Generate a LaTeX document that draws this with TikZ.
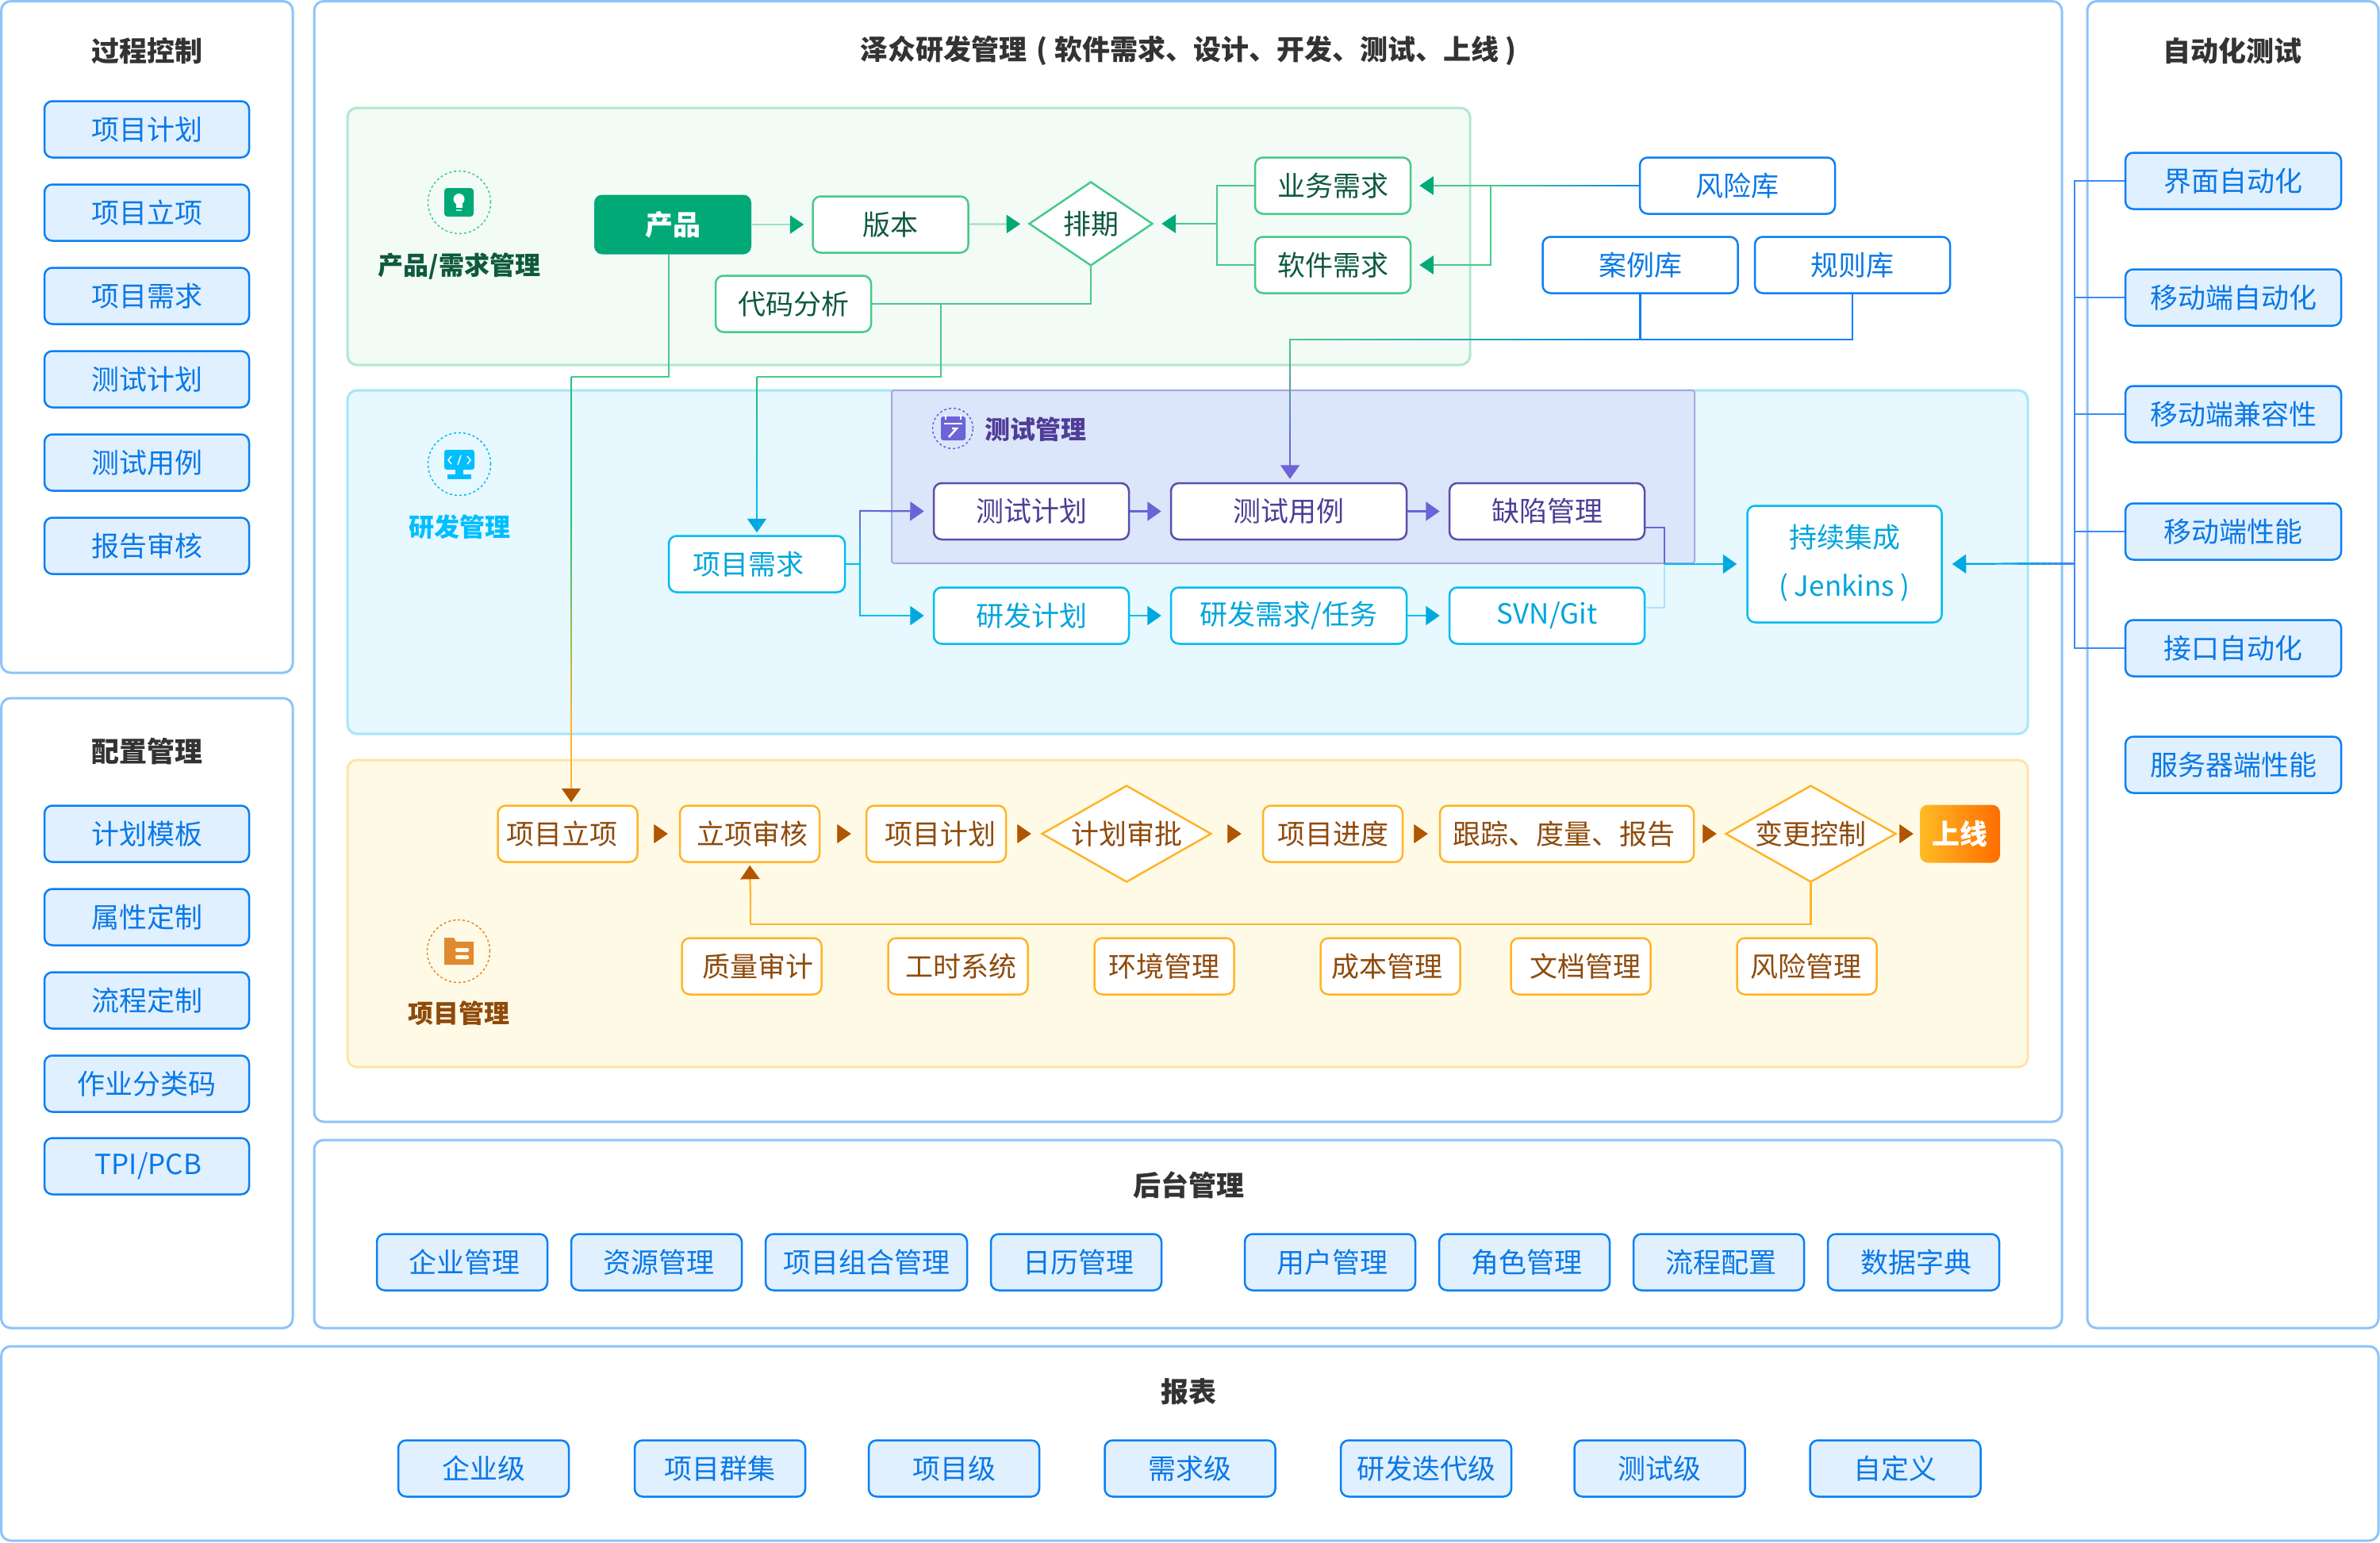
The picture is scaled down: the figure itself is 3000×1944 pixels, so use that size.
\documentclass[tikz,border=0pt]{standalone}
\usepackage{fontspec}
\setmainfont{Noto Sans CJK SC}
\usetikzlibrary{arrows.meta,calc,shapes.geometric}
\definecolor{panelblue}{HTML}{8CC4FA}
\definecolor{btnblue}{HTML}{0A80F5}
\definecolor{busblue}{HTML}{3B8BF5}
\definecolor{btnfill}{HTML}{E0F0FF}
\definecolor{txtblue}{HTML}{0A78E6}
\definecolor{titlegray}{HTML}{333333}
\definecolor{gfill}{HTML}{F3FBF7}
\definecolor{gedge}{HTML}{B2E8CC}
\definecolor{gline}{HTML}{48C98A}
\definecolor{gvivid}{HTML}{1BC47D}
\definecolor{gpale}{HTML}{9FE0C2}
\definecolor{gtext}{HTML}{0E5A3E}
\definecolor{gdark}{HTML}{00A976}
\definecolor{cfill}{HTML}{E8F8FF}
\definecolor{cedge}{HTML}{A6E6FA}
\definecolor{cline}{HTML}{00BDF0}
\definecolor{ctip}{HTML}{00A8E0}
\definecolor{ctext}{HTML}{00A5DC}
\definecolor{cicon}{HTML}{00BFFF}
\definecolor{pfill}{HTML}{DCE6FB}
\definecolor{pedge}{HTML}{A8A8DC}
\definecolor{pline}{HTML}{5B4EAB}
\definecolor{ptip}{HTML}{6B63D6}
\definecolor{ptext}{HTML}{4F3D96}
\definecolor{ofill}{HTML}{FFFAE6}
\definecolor{oedge}{HTML}{FFE3A8}
\definecolor{oline}{HTML}{FFB429}
\definecolor{otip}{HTML}{B15500}
\definecolor{otext}{HTML}{8F4A0B}
\definecolor{oicon}{HTML}{E08A30}
\tikzset{
  panel/.style={rounded corners=12pt,line width=3pt},
  outerpanel/.style={panel,draw=panelblue,fill=white},
  headline/.style={font=\fontsize{35}{42}\selectfont\bfseries,text=titlegray,inner sep=0pt},
  sidehead/.style={font=\fontsize{32}{38}\selectfont\bfseries,inner sep=0pt},
  box/.style={rectangle,rounded corners=10pt,line width=2.5pt,inner sep=0pt,minimum height=71pt,
    font=\fontsize{35}{42}\selectfont},
  bluebtn/.style={box,draw=btnblue,fill=btnfill,text=txtblue},
  bluewhite/.style={box,draw=btnblue,fill=white,text=txtblue,minimum width=246pt},
  greenbox/.style={box,draw=gline,fill=white,text=gtext,minimum width=196pt},
  cyanbox/.style={box,draw=cline,fill=white,text=ctext},
  purplebox/.style={box,draw=pline,fill=white,text=ptext},
  orangebox/.style={box,draw=oline,fill=white,text=otext,minimum width=176pt},
  flatdiamond/.style={diamond,line width=2.5pt,inner sep=0pt,fill=white,font=\fontsize{35}{42}\selectfont},
  gtip/.style={-{Triangle[length=17.5pt,width=23pt,color=gdark]},shorten >=10pt},
  ctipped/.style={-{Triangle[length=17.5pt,width=24pt,color=ctip]}},
  ptipped/.style={-{Triangle[length=17.5pt,width=24pt,color=ptip]}},
  otipped/.style={-{Triangle[length=17.5pt,width=24pt,color=otip]}},
  conn/.style={line width=2.2pt},
}
\newcommand{\flatlabel}[1]{\makebox[0pt]{\raisebox{-.38em}[0pt][0pt]{#1}}}
\newcommand{\rgt}[2]{\kern#1pt #2}
\newcommand{\lft}[2]{#2\kern#1pt}
\newcommand{\gradline}[4]{%
  \foreach \k in {1,...,24}{%
    \pgfmathtruncatemacro\pct{\k*100/24}
    \pgfmathsetmacro\ta{(\k-1)/24}
    \pgfmathsetmacro\tb{\k/24}
    \draw[conn,line cap=rect,color=#4!\pct!#3] ($(#1)!\ta!(#2)$) -- ($(#1)!\tb!(#2)$);
  }}
\begin{document}
\begin{tikzpicture}[x=1pt,y=-1pt]
\useasboundingbox (0,0) rectangle (3000,1944);
% outer panels
\draw[outerpanel] (1.5,1.5) rectangle (369,848);
\draw[outerpanel] (1.5,880) rectangle (369,1674);
\draw[outerpanel] (396,1.5) rectangle (2599,1414);
\draw[outerpanel] (396,1437) rectangle (2599,1674);
\draw[outerpanel] (2631,1.5) rectangle (2998,1674);
\draw[outerpanel] (1.5,1697) rectangle (2998,1942);
% inner panels
\draw[panel,draw=gedge,fill=gfill] (438,136) rectangle (1853,460);
\draw[panel,draw=cedge,fill=cfill] (438,492) rectangle (2556,925);
\draw[rounded corners=3pt,line width=2pt,draw=pedge,fill=pfill] (1124,492) rectangle (2136,710);
\draw[panel,draw=oedge,fill=ofill] (438,958) rectangle (2556,1345);
% titles
\node[headline] (tctl) at (185,64) {过程控制};
\node[headline] (tcfg) at (185,947) {配置管理};
\node[headline] (tmain) at (1500,64) {泽众研发管理\kern4pt{} ( 软件需求、设计、开发、测试、上线 )\kern4pt};
\node[headline] (tauto) at (2814,64) {自动化测试};
\node[headline] (tback) at (1498,1494) {后台管理};
\node[headline] (trep) at (1498,1754) {报表};
% button columns
\foreach \nm/\yy/\txt in {c1/163/项目计划,c2/268/项目立项,c3/373/项目需求,c4/478/测试计划,c5/583/测试用例,c6/688/报告审核,
    f1/1051/计划模板,f2/1156/属性定制,f3/1261/流程定制,f4/1366/作业分类码,f5/1470/{\rgt{4}{TPI/PCB}}}
  \node[bluebtn,minimum width=258pt] (\nm) at (185,\yy) {\txt};
\foreach \nm/\yy/\txt in {a1/228/界面自动化,a2/375/移动端自动化,a3/522/移动端兼容性,a4/670/移动端性能,a5/817/接口自动化,a6/964/服务器端性能}
  \node[bluebtn,minimum width=272pt] (\nm) at (2815,\yy) {\txt};
\foreach \nm/\xx/\ww/\txt in {b1/582.5/215/\rgt{6}{企业管理},b2/827.5/215/\rgt{6}{资源管理},b3/1092/254/项目组合管理,b4/1356.5/215/\rgt{6}{日历管理},
    b5/1676.5/215/\rgt{6}{用户管理},b6/1921.5/215/\rgt{6}{角色管理},b7/2166.5/215/\rgt{6}{流程配置},b8/2412/216/\rgt{6}{数据字典}}
  \node[bluebtn,minimum width=\ww pt] (\nm) at (\xx,1591) {\txt};
\foreach \nm/\xx/\txt in {r1/609.5/企业级,r2/907.5/项目群集,r3/1202.5/项目级,r4/1500/需求级,r5/1797.5/研发迭代级,r6/2092/测试级,r7/2389/自定义}
  \node[bluebtn,minimum width=215pt] (\nm) at (\xx,1851) {\txt};
% product part
\node[box,fill=gdark,text=white,minimum width=198pt,minimum height=75pt,font=\fontsize{35}{42}\selectfont\bfseries] (prod) at (848,283) {产品};
\node[greenbox] (ver) at (1122.5,283) {版本};
\node[flatdiamond,draw=gline,text=gtext,minimum width=156pt,minimum height=106pt] (sched) at (1375,282) {\flatlabel{排期}};
\node[greenbox] (code) at (1000,383) {代码分析};
\node[greenbox] (biz) at (1680,234) {业务需求};
\node[greenbox] (soft) at (1680,334) {软件需求};
\node[bluewhite] (risk) at (2190,234) {风险库};
\node[bluewhite] (case) at (2067.5,334) {案例库};
\node[bluewhite] (rule) at (2335,334) {规则库};
% dev and test part
\node[cyanbox,minimum width=222pt] (req) at (954,711) {\lft{22}{项目需求}};
\node[purplebox,minimum width=246pt] (tplan) at (1300,644.5) {测试计划};
\node[purplebox,minimum width=297pt] (tcase) at (1624.5,644.5) {测试用例};
\node[purplebox,minimum width=246pt] (bug) at (1950,644.5) {缺陷管理};
\node[cyanbox,minimum width=246pt] (dplan) at (1300,776) {研发计划};
\node[cyanbox,minimum width=297pt] (dtask) at (1624.5,776) {研发需求/任务};
\node[cyanbox,minimum width=246pt] (svn) at (1950,776) {SVN/Git};
\node[cyanbox,minimum width=245pt,minimum height=147pt,font=\fontsize{35}{61}\selectfont] (ci) at (2325,711)
  {\raisebox{-4pt}[0pt][0pt]{\begin{tabular}{@{}c@{}}持续集成\\( Jenkins )\end{tabular}}};
% project part
\node[orangebox] (init) at (715.5,1051) {\lft{14}{项目立项}};
\node[orangebox] (audit) at (945,1051) {\rgt{6}{立项审核}};
\node[orangebox] (plan) at (1180,1051) {\rgt{11}{项目计划}};
\node[flatdiamond,draw=oline,text=otext,minimum width=214pt,minimum height=122pt] (appr) at (1420,1051) {\flatlabel{计划审批}};
\node[orangebox] (prog) at (1680,1051) {项目进度};
\node[orangebox,minimum width=320pt] (track) at (1975,1051) {\lft{8}{跟踪、度量、报告}};
\node[flatdiamond,draw=oline,text=otext,minimum width=215pt,minimum height=122pt] (chg) at (2282.5,1051) {\flatlabel{变更控制}};
\node[box,left color=oline!90!yellow,right color=orange!85!red,minimum width=101pt,minimum height=73pt,draw=none,text=white,
  font=\fontsize{35}{42}\selectfont\bfseries] (live) at (2470.5,1051) {上线};
\foreach \nm/\xx/\txt in {q1/947.5/\rgt{16}{质量审计},q2/1207.5/\rgt{8}{工时系统},q3/1467.5/环境管理,q4/1752.5/\lft{9}{成本管理},q5/1992.5/\rgt{11}{文档管理},q6/2277.5/\lft{3}{风险管理}}
  \node[orangebox] (\nm) at (\xx,1218) {\txt};
% side labels and icons
\node[circle,draw=gline,dashed,line width=1.5pt,minimum size=79pt,inner sep=0pt] (icprod) at (579,255) {};
\fill[gdark,rounded corners=4pt] (560,237) rectangle (597,273);
\fill[white] (578.5,251) circle (7pt);
\fill[white] (574.5,255) rectangle (582.5,262);
\fill[white!70!gdark] (575,263.5) rectangle (582,266);
\node[sidehead,text=gtext] (lbprod) at (579,336) {产品/需求管理};
\node[circle,draw=cline,dashed,line width=1.5pt,minimum size=79pt,inner sep=0pt] (icdev) at (579,585) {};
\fill[cicon,rounded corners=3pt] (560,567) rectangle (598,592);
\fill[cicon] (574,592) rectangle (584,600);
\fill[cicon] (564,598) rectangle (594,604);
\draw[white,line width=1.5pt] (569,575) -- (565,580) -- (569,585);
\draw[white,line width=1.5pt] (589,575) -- (593,580) -- (589,585);
\draw[white,line width=1.5pt] (581,574) -- (577,586);
\node[sidehead,text=cicon] (lbdev) at (579,664) {研发管理};
\node[circle,draw=ptip,dashed,line width=1.5pt,minimum size=51pt,inner sep=0pt] (ictest) at (1201,540) {};
\fill[ptip,rounded corners=3pt] (1186,525) rectangle (1217,555);
\draw[white,line width=1.5pt] (1190,534) -- (1213,534);
\draw[white,line width=1.5pt] (1192,523) -- (1192,529);
\draw[white,line width=1.5pt] (1211,523) -- (1211,529);
\draw[white,line width=2.5pt] (1196,551) -- (1206,540) -- (1200,540);
\node[sidehead,text=ptext] (lbtest) at (1305,541) {测试管理};
\node[circle,draw=oicon,dashed,line width=1.5pt,minimum size=79pt,inner sep=0pt] (icproj) at (578,1199) {};
\fill[oicon] (560,1182) -- (572,1182) -- (575,1187) -- (597,1187) -- (597,1216) -- (560,1216) -- cycle;
\fill[ofill,rounded corners=2pt] (574,1195) rectangle (591,1200);
\fill[ofill,rounded corners=2pt] (574,1204) rectangle (591,1209);
\node[sidehead,text=otext] (lbproj) at (578,1277) {项目管理};
% coordinates of the bends
\coordinate (pdn) at (843,320);
\coordinate (pbk) at (843,475);
\coordinate (pleft) at (720,475);
\coordinate (pmid) at (720,660);
\coordinate (pamb) at (720,920);
\coordinate (pend) at (720,978);
\coordinate (back) at (1534,282);
\coordinate (cbr) at (1186,383);
\coordinate (cbk) at (1186,475);
\coordinate (cdn) at (954,475);
\coordinate (cgr) at (954,500);
\coordinate (cend) at (954,620);
\coordinate (rbr) at (1879,234);
\coordinate (lib) at (2067.5,428);
\coordinate (lbk) at (1626,428);
\coordinate (lend) at (1626,570);
\coordinate (rq) at (1084,711);
\coordinate (rqt) at (1084,644);
\coordinate (bbr) at (2098,665);
\coordinate (bjn) at (2098,711);
\coordinate (bsv) at (2098,766);
\coordinate (bus) at (2615,710.5);
\coordinate (bbs) at (2600,710.5);
\coordinate (bbe) at (2540,710.5);
\coordinate (lpend) at (946,1165);
\coordinate (lpup) at (946,1132);
% product connectors
\draw[conn,gpale,gtip] (prod) -- (ver);
\draw[conn,gpale,gtip] (ver) -- (sched);
\draw[conn,gline] (biz.west) -| (back);
\draw[conn,gline] (back) |- (soft.west);
\draw[conn,gline,gtip] (back) -- (sched.east);
\draw[conn,gline] (code.east) -| (sched.south);
\draw[conn,gline] (pdn) -- (pbk) -- (pleft);
\draw[conn,gvivid] (pleft) -- (pmid);
\gradline{pmid}{pamb}{gvivid}{oline}
\draw[conn,oline,otipped,shorten >=3pt] (pamb) -- (init.north -| pend);
\draw[conn,gline] (cbr) -- (cbk) -- (cdn);
\draw[conn,gvivid] (cdn) -- (cgr);
\gradline{cgr}{cend}{gvivid}{cline}
\draw[conn,cline,ctipped,shorten >=3pt] (cend) -- (req.north);
% library connectors
\gradline{risk.west}{rbr}{btnblue}{gline}
\draw[conn,gline,gtip] (rbr) -- (biz.east);
\draw[conn,gline,gtip] (rbr) |- (soft.east);
\draw[conn,btnblue] (case.south) -- (lib);
\draw[conn,btnblue] (rule.south) |- (lib);
\gradline{lib}{lbk}{btnblue}{gline}
\gradline{lbk}{lend}{gline}{ptip}
\draw[conn,ptip,ptipped,shorten >=4pt] (lend) -- (tcase.north -| lend);
% dev and test connectors
\draw[conn,cline] (req.east) -- (rq);
\draw[conn,cline,ctipped,shorten >=11pt] (rq) |- (dplan.west);
\gradline{rq}{rqt}{cline}{ptip}
\draw[conn,ptip,ptipped,shorten >=11pt] (rqt) -- (tplan.west);
\draw[conn,ptip,ptipped,shorten >=11pt] (tplan) -- (tcase);
\draw[conn,ptip,ptipped,shorten >=11pt] (tcase) -- (bug);
\draw[conn,cline,ctipped,shorten >=11pt] (dplan) -- (dtask);
\draw[conn,cline,ctipped,shorten >=11pt] (dtask) -- (svn);
\draw[conn,ptip] (bug.east |- bbr) -- (bbr) -- (bjn);
\draw[conn,cedge] (svn.east |- bsv) -- (bsv) -- (bjn);
\draw[conn,cline,ctipped,shorten >=12pt] (bjn) -- (ci.west);
% automation connectors
\foreach \i in {1,...,5}
  \draw[conn,busblue] (bus) |- (a\i.west);
\draw[conn,busblue] (bus) -- (bbs);
\gradline{bbs}{bbe}{busblue}{ctip}
\draw[conn,ctip,ctipped,shorten >=12pt] (bbe) -- (ci.east);
% project connectors
\foreach \a/\b/\sa/\sb in {init/audit/21.5/14,audit/plan/21.5/18,plan/appr/14.5/12,appr/prog/19.5/26,prog/track/13.5/14,track/chg/11.5/10,chg/live/5/7}
  \draw[line width=0.5pt,otip,otipped,shorten <=\sa pt,shorten >=\sb pt] (\a.east) -- (\b.west);
\draw[conn,oline] (chg.south) |- (lpend) -- (lpup);
\draw[conn,oline,otipped,shorten >=3pt] (lpup) -- (audit.south);
\end{tikzpicture}
\end{document}
